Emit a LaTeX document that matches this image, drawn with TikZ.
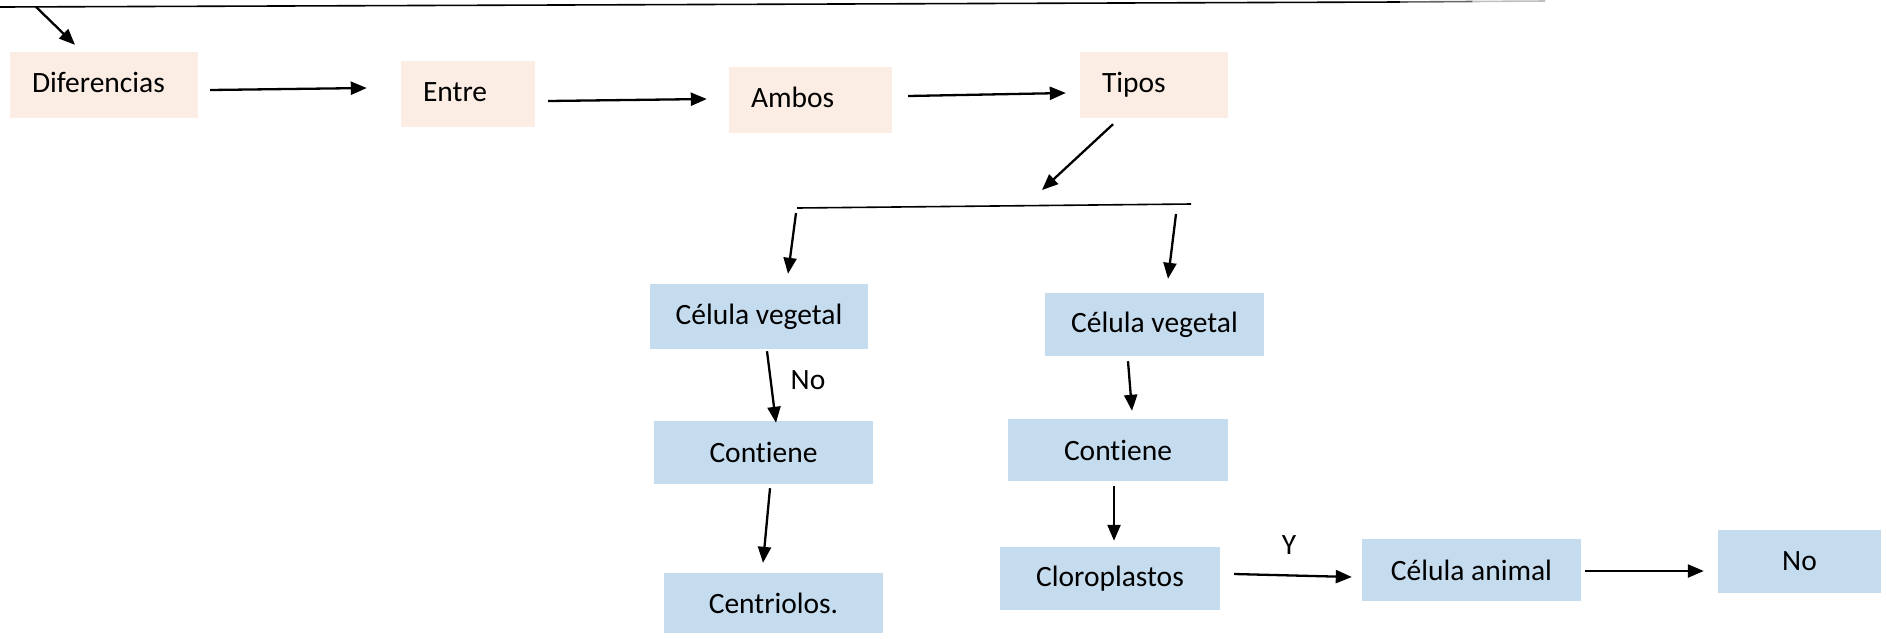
\documentclass[tikz,border=0pt]{standalone}
\usepackage{fontspec}
\setmainfont{Carlito}[Ligatures={NoCommon}]
\usetikzlibrary{arrows.meta,calc}
\definecolor{peach}{RGB}{251,237,228}
\definecolor{lblue}{RGB}{197,220,239}
\begin{document}
\begin{tikzpicture}[x=1pt,y=-1pt,
  txt/.style={font=\fontsize{29.5}{35}\selectfont},
  pbox/.style={txt,fill=peach,draw=none,minimum height=66pt,inner xsep=22pt,inner ysep=0pt,align=left,text height=20pt,text depth=6pt},
  bbox/.style={txt,fill=lblue,draw=none,minimum height=64pt,inner sep=0pt,align=center},
  arr/.style={line width=2.3pt,-{Triangle[length=16pt,width=13pt]}},
  thin/.style={line width=1.6pt}]
\useasboundingbox (0,0) rectangle (1886,638);

% top line
\coordinate (tl1) at (0,7);
\coordinate (tl2) at (1400,2);
\coordinate (tl3) at (1545,1);
\draw[thin] (tl1) -- (tl2);
\draw[line width=1.6pt, black!60] (tl2) -- ($(tl2)!0.5!(tl3)$);
\draw[line width=1.6pt, black!25] ($(tl2)!0.5!(tl3)$) -- (tl3);

% peach boxes
\node[pbox,text width=144pt] (dif) at (104,85) {Diferencias};
\node[pbox,text width=90pt]  (ent) at (468,94) {Entre};
\node[pbox,text width=119pt] (amb) at (810.5,100) {Ambos};
\node[pbox,text width=104pt] (tip) at (1154,85) {Tipos};

% blue boxes
\node[bbox,minimum width=218pt,minimum height=65pt] (cv1) at (759,316.5) {Célula vegetal};
\node[bbox,minimum width=219pt,minimum height=63pt] (cv2) at (1154.5,324.5) {Célula vegetal};
\node[bbox,minimum width=219pt,minimum height=63pt] (con1) at (763.5,452.5) {Contiene};
\node[bbox,minimum width=220pt,minimum height=62pt] (con2) at (1118,450) {Contiene};
\node[bbox,minimum width=219pt,minimum height=60pt] (cen) at (773.5,603) {Centriolos.};
\node[bbox,minimum width=220pt,minimum height=63pt] (clo) at (1110,578.5) {Cloroplastos};
\node[bbox,minimum width=219pt,minimum height=62pt] (ani) at (1471.5,570) {Célula animal};
\node[bbox,minimum width=163pt,minimum height=63pt] (no) at (1799.5,561.5) {No};

% split line
\coordinate (h1) at (797,208);
\coordinate (h2) at (1191,204);
\draw[thin] (h1) -- (h2);
\coordinate (sp) at (1042,190);

% arrows
\draw[arr] ($(tl1)!0.0257!(tl2)$) -- ($(dif.north)+(-29,-7)$);
\draw[arr] ($(dif.east)+(12,5)$) -- ($(ent.west)+(-34,-6)$);
\draw[arr] ($(ent.east)+(13,7)$) -- ($(amb.west)+(-22,-1)$);
\draw[arr] ($(amb.east)+(16,-4)$) -- ($(tip.west)+(-14,8)$);
\draw[arr] ($(tip.south)+(-41,6)$) -- (sp);
\draw[arr] ($(h1)+(-1,5)$) -- ($(cv1.north)+(29,-10)$);
\draw[arr] ($(h2)+(-15,10)$) -- ($(cv2.north)+(13.5,-14)$);
\draw[arr] ($(cv1.south)+(8,2)$) -- ($(con1.north)+(12.5,2)$);
\draw[arr] ($(con1.south)+(6.5,4)$) -- ($(cen.north)+(-10.5,-10)$);
\draw[arr] ($(cv2.south)+(-26.5,5)$) -- ($(con2.north)+(14,-8)$);
\draw[arr] ($(con2.south)+(-4,5)$) -- ($(clo.north)+(4,-6)$);
\draw[arr] ($(clo.east)+(14,-4.5)$) -- ($(ani.west)+(-10,7)$);
\draw[arr] ($(ani.east)+(4,1)$) -- ($(no.west)+(-14,9.5)$);

% labels
\node[txt] (lno) at (808,380) {No};
\node[txt] (ly) at (1289,545) {Y};
\end{tikzpicture}
\end{document}
